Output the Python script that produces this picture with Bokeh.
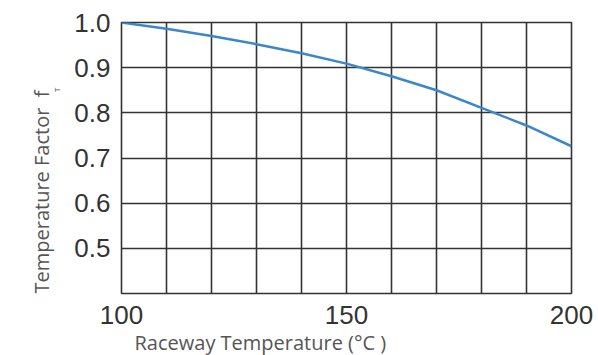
from bokeh.plotting import figure
from bokeh.models import Range1d, FixedTicker, Title, CustomJSTickFormatter
from bokeh.embed import file_html
from bokeh.resources import INLINE

# Data
temperature = [100, 110, 120, 130, 140, 150, 160, 170, 180, 190, 200]
factor = [1.000, 0.986, 0.970, 0.952, 0.932, 0.909, 0.881, 0.850, 0.811, 0.772, 0.726]

x_grid = [100, 110, 120, 130, 140, 150, 160, 170, 180, 190, 200]
x_tick_labels = [100, 150, 200]
y_grid = [0.4, 0.5, 0.6, 0.7, 0.8, 0.9, 1.0]
y_tick_labels = [0.5, 0.6, 0.7, 0.8, 0.9, 1.0]

x_title = "Raceway Temperature (°C )"
y_title = "Temperature Factor\u00a0 f"
y_title_sub = "T"

p = figure(width=598, height=355, output_backend="svg", toolbar_location=None,
           x_range=Range1d(100, 200), y_range=Range1d(0.4, 1.0),
           min_border_left=121, min_border_right=27, min_border_top=22, min_border_bottom=59)

p.outline_line_color = "#333333"
p.outline_line_width = 1.6
p.background_fill_color = "white"
p.border_fill_color = "white"

p.xgrid.ticker = FixedTicker(ticks=x_grid)
p.ygrid.ticker = FixedTicker(ticks=y_grid)
for g in (p.xgrid, p.ygrid):
    g.grid_line_color = "#333333"
    g.grid_line_width = 1.6
    g.grid_line_alpha = 1.0

p.xaxis.ticker = FixedTicker(ticks=x_tick_labels)
p.yaxis.ticker = FixedTicker(ticks=y_tick_labels)
p.yaxis.formatter = CustomJSTickFormatter(code="return tick.toFixed(1);")
for ax in (p.xaxis, p.yaxis):
    ax.axis_line_color = None
    ax.major_tick_line_color = None
    ax.minor_tick_line_color = None
    ax.major_label_text_font = "Liberation Sans"
    ax.major_label_text_font_size = "26px"
    ax.major_label_text_color = "#333333"
p.xaxis.major_label_standoff = 6
p.yaxis.major_label_standoff = 5

p.line(temperature, factor, line_color="#3a87c9", line_width=2.5)

common = dict(text_font="Open Sans", text_font_style="normal", text_color="#555555")
p.add_layout(Title(text=x_title, align="left", offset=13, standoff=0,
                   text_font_size="20px", **common), "below")
p.add_layout(Title(text=y_title_sub, align="right", offset=65, standoff=16, vertical_align="top",
                   text_font_size="8px", **common), "left")
p.add_layout(Title(text=y_title, align="left", offset=0, standoff=-24,
                   text_font_size="20px", **common), "left")

open("out.html", "w").write(file_html(p, INLINE))
